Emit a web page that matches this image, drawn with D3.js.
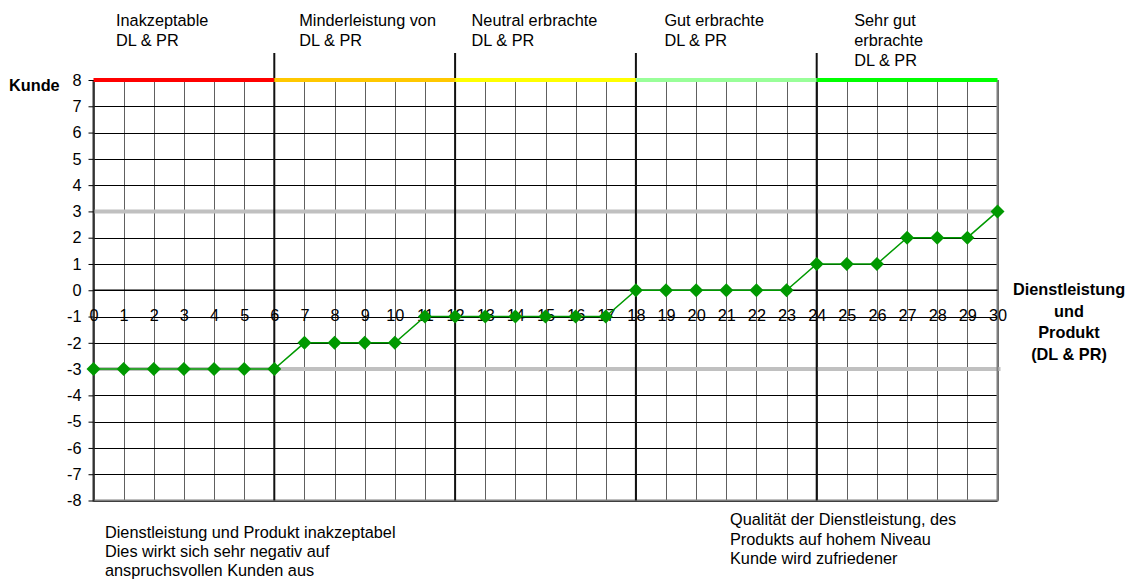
<!DOCTYPE html>
<html>
<head>
<meta charset="utf-8">
<script src="https://cdn.jsdelivr.net/npm/d3@7"></script>
<style>
  html, body { margin: 0; padding: 0; background: #fff; }
  svg text { font-family: "Liberation Sans", Arial, sans-serif; font-size: 16.3px; fill: #000; }
</style>
</head>
<body>
<svg id="chart" width="1129" height="581"></svg>
<script>
// Service / product quality (x) against customer reaction (y)
const xValues = d3.range(0, 31);
const kundeValues = [-3, -3, -3, -3, -3, -3, -3, -2, -2, -2, -2, -1, -1, -1, -1, -1, -1, -1,
                     0, 0, 0, 0, 0, 0, 1, 1, 1, 2, 2, 2, 3];
const yTicks = d3.range(-8, 9);
const xTicks = d3.range(0, 31);
const referenceLevels = [3, -3];

// Quality zones along the x axis
const zoneStart = [0, 6, 12, 18, 24];
const zoneEnd = [6, 12, 18, 24, 30];
const zoneColors = ["#ff0000", "#ffc800", "#ffff00", "#99ff99", "#00ff00"];
const zoneLabels = [
  ["Inakzeptable", "DL & PR"],
  ["Minderleistung von", "DL & PR"],
  ["Neutral erbrachte", "DL & PR"],
  ["Gut erbrachte", "DL & PR"],
  ["Sehr gut", "erbrachte", "DL & PR"]
];

const yTitle = "Kunde";
const xTitle = ["Dienstleistung", "und", "Produkt", "(DL & PR)"];
const noteLeft = ["Dienstleistung und Produkt inakzeptabel", "Dies wirkt sich sehr negativ auf", "anspruchsvollen Kunden aus"];
const noteRight = ["Qualität der Dienstleistung, des", "Produkts auf hohem Niveau", "Kunde wird zufriedener"];

const svg = d3.select("#chart");
const x = d3.scaleLinear().domain([0, 30]).range([93.5, 997.5]);
const y = d3.scaleLinear().domain([-8, 8]).range([500.5, 80]);
const plain = d => String(d);   // hyphen-minus, as in the original tick labels

// grid
const grid = svg.append("g");
grid.selectAll("line.v").data(xTicks).join("line")
  .attr("x1", d => Math.round(x(d)) + 0.5).attr("x2", d => Math.round(x(d)) + 0.5)
  .attr("y1", y(8)).attr("y2", y(-8))
  .attr("stroke", "#606060").attr("stroke-width", 1);
grid.selectAll("line.h").data(yTicks).join("line")
  .attr("x1", x(0)).attr("x2", x(30))
  .attr("y1", d => Math.round(y(d)) + 0.5).attr("y2", d => Math.round(y(d)) + 0.5)
  .attr("stroke", "#000").attr("stroke-width", 1);

// reference levels
svg.append("g").selectAll("line").data(referenceLevels).join("line")
  .attr("x1", x(0)).attr("x2", x(30) + 3)
  .attr("y1", d => y(d)).attr("y2", d => y(d))
  .attr("stroke", "#c0c0c0").attr("stroke-width", 4);

// frame
svg.append("line").attr("x1", x(30)).attr("x2", x(30)).attr("y1", y(8)).attr("y2", y(-8))
  .attr("stroke", "#7f7f7f").attr("stroke-width", 2);
svg.append("line").attr("x1", x(0)).attr("x2", x(30) + 1).attr("y1", y(-8)).attr("y2", y(-8))
  .attr("stroke", "#7f7f7f").attr("stroke-width", 2);
svg.append("line").attr("x1", x(0)).attr("x2", x(0)).attr("y1", y(8)).attr("y2", y(-8) + 1)
  .attr("stroke", "#333").attr("stroke-width", 2);
svg.append("line").attr("x1", x(0)).attr("x2", x(30)).attr("y1", y(0)).attr("y2", y(0))
  .attr("stroke", "#000").attr("stroke-width", 1.5);

// zone dividers
svg.append("g").selectAll("line").data(zoneStart.slice(1)).join("line")
  .attr("x1", d => x(d)).attr("x2", d => x(d))
  .attr("y1", 53).attr("y2", y(-8))
  .attr("stroke", "#111").attr("stroke-width", 2);

// coloured zone bars on the top edge
svg.append("g").selectAll("line").data(zoneStart).join("line")
  .attr("x1", d => x(d)).attr("x2", (d, i) => x(zoneEnd[i]))
  .attr("y1", y(8)).attr("y2", y(8))
  .attr("stroke", (d, i) => zoneColors[i]).attr("stroke-width", 4);

// zone labels
const labelInset = [22.5, 25, 16.5, 28.5, 37.5];
zoneLabels.forEach((lines, i) => {
  const t = svg.append("text").attr("x", x(zoneStart[i]) + labelInset[i]).attr("y", 25.5);
  lines.forEach((s, j) => t.append("tspan").attr("x", x(zoneStart[i]) + labelInset[i]).attr("dy", j ? 20 : 0).text(s));
});

// y axis
const yAxis = svg.append("g").attr("transform", `translate(${x(0)},0)`)
  .call(d3.axisLeft(y).tickValues(yTicks).tickSize(5).tickPadding(7).tickFormat(plain));
yAxis.select(".domain").remove();
yAxis.selectAll(".tick line").attr("stroke", "#000");
yAxis.selectAll("text").attr("font-size", 16.3).attr("font-family", "Liberation Sans, Arial, sans-serif");

// x axis labels sit below the zero line
const xAxis = svg.append("g").attr("transform", `translate(0,${y(0)})`)
  .call(d3.axisBottom(x).tickValues(xTicks).tickSize(0).tickPadding(19).tickFormat(plain));
xAxis.select(".domain").remove();
xAxis.selectAll("text").attr("font-size", 16.3).attr("font-family", "Liberation Sans, Arial, sans-serif");

// series
const pts = xValues.map((v, i) => [v, kundeValues[i]]);
svg.append("path").datum(pts)
  .attr("fill", "none").attr("stroke", "#009900").attr("stroke-width", 1.5)
  .attr("d", d3.line().x(d => x(d[0])).y(d => y(d[1])));
svg.append("g").selectAll("path").data(pts).join("path")
  .attr("transform", d => `translate(${x(d[0])},${y(d[1])})`)
  .attr("d", "M0,-7L7,0L0,7L-7,0Z")
  .attr("fill", "#009900");

// titles
svg.append("text").attr("x", 9).attr("y", 91).attr("font-weight", "bold").text(yTitle);
const xt = svg.append("text").attr("text-anchor", "middle").attr("font-weight", "bold").attr("y", 295);
xTitle.forEach((s, j) => xt.append("tspan").attr("x", 1069).attr("dy", j ? 21.5 : 0).text(s));

// notes under the chart
const nl = svg.append("text").attr("y", 538);
noteLeft.forEach((s, j) => nl.append("tspan").attr("x", 105).attr("dy", j ? 19 : 0).text(s));
const nr = svg.append("text").attr("y", 525);
noteRight.forEach((s, j) => nr.append("tspan").attr("x", 730).attr("dy", j ? 19.5 : 0).text(s));
</script>
</body>
</html>
